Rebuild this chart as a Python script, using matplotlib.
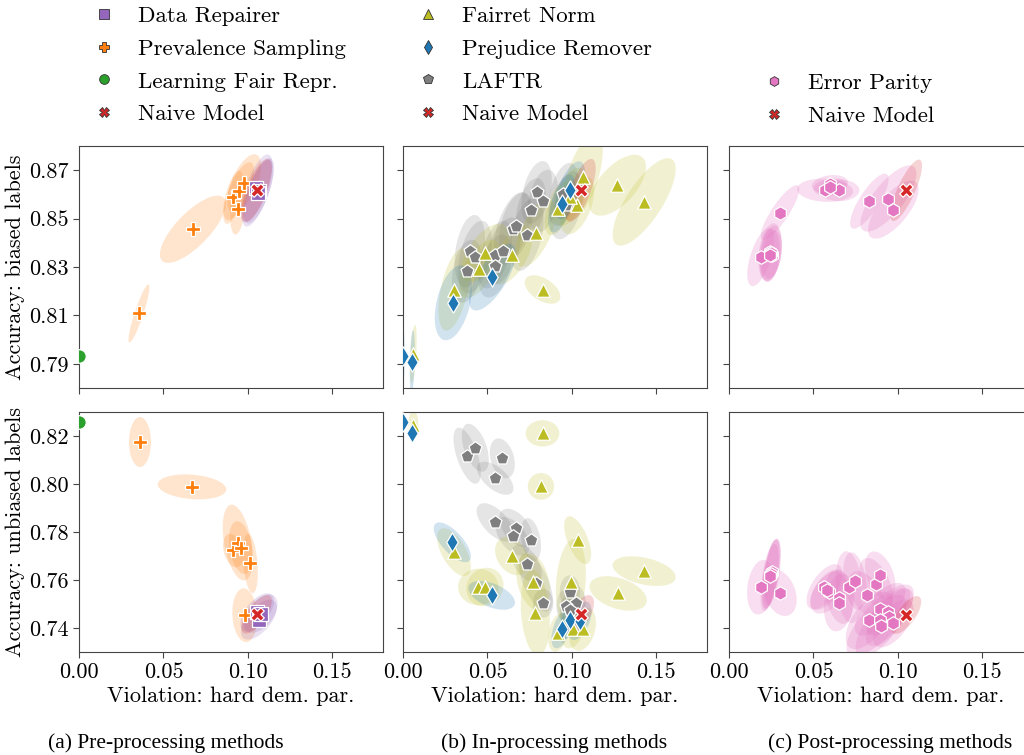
import numpy as np
import matplotlib.pyplot as plt
from matplotlib.patches import Ellipse
from matplotlib.lines import Line2D

plt.rcParams['font.family'] = 'cmr10'
plt.rcParams['axes.formatter.use_mathtext'] = True
plt.rcParams['font.size'] = 16

# every entry: violation, accuracy, sd violation, sd accuracy, correlation
# --- pre-processing, biased labels
dr_b = [(0.1050, 0.8625, 0.0095, 0.0140, 0.7), (0.1065, 0.8615, 0.0090, 0.0135, 0.7),
        (0.1058, 0.8605, 0.0092, 0.0138, 0.7)]
prev_b = [(0.0355, 0.8108, 0.0062, 0.0120, 0.9), (0.0674, 0.8456, 0.0195, 0.0139, 0.75),
          (0.0913, 0.8588, 0.0060, 0.0110, 0.6), (0.0947, 0.8613, 0.0090, 0.0120, 0.7),
          (0.0978, 0.8646, 0.0100, 0.0120, 0.6), (0.0940, 0.8539, 0.0045, 0.0105, 0.3)]
lfr_b = [(0.0, 0.7934, 0.0005, 0.0005, 0.0)]
naive_b = [(0.1052, 0.8617, 0.0090, 0.0130, 0.7)]
# --- pre-processing, unbiased labels
dr_u = [(0.1055, 0.7465, 0.0100, 0.0080, 0.6), (0.1065, 0.7435, 0.0107, 0.0083, 0.6),
        (0.1075, 0.7460, 0.0100, 0.0080, 0.5)]
prev_u = [(0.0361, 0.8175, 0.0065, 0.0104, 0.0), (0.0669, 0.7988, 0.0203, 0.0052, -0.2),
          (0.0913, 0.7723, 0.0060, 0.0070, -0.3), (0.0940, 0.7756, 0.0089, 0.0158, -0.4),
          (0.0958, 0.7735, 0.0070, 0.0110, -0.3), (0.1015, 0.7669, 0.0044, 0.0124, -0.3),
          (0.0982, 0.7453, 0.0074, 0.0112, -0.1)]
lfr_u = [(0.0, 0.8258, 0.0005, 0.0005, 0.0)]
naive_u = [(0.1052, 0.7457, 0.0090, 0.0080, 0.7)]

# --- in-processing, biased labels
fair_b = [(0.0304, 0.8207, 0.0094, 0.0170, 0.5), (0.0452, 0.8293, 0.0120, 0.0120, 0.6),
          (0.0485, 0.8359, 0.0140, 0.0120, 0.6), (0.0647, 0.8348, 0.0120, 0.0120, 0.6),
          (0.0785, 0.8441, 0.0120, 0.0140, 0.6), (0.0826, 0.8207, 0.0106, 0.0059, -0.5),
          (0.1270, 0.8638, 0.0169, 0.0126, 0.6), (0.1428, 0.8569, 0.0187, 0.0181, 0.75),
          (0.1063, 0.8672, 0.0120, 0.0180, 0.6), (0.1032, 0.8555, 0.0100, 0.0120, 0.5),
          (0.0988, 0.8590, 0.0100, 0.0120, 0.5), (0.0919, 0.8541, 0.0080, 0.0110, 0.5),
          (0.0061, 0.7941, 0.0020, 0.0120, 0.5)]
prej_b = [(0.0298, 0.8152, 0.0110, 0.0155, 0.4), (0.0529, 0.8258, 0.0138, 0.0138, 0.7),
          (0.0939, 0.8562, 0.0080, 0.0120, 0.6), (0.0988, 0.8617, 0.0090, 0.0120, 0.6),
          (0.0000, 0.7934, 0.0010, 0.0120, 0.0), (0.0055, 0.7909, 0.0015, 0.0130, 0.3)]
laftr_b = [(0.0396, 0.8365, 0.0090, 0.0150, 0.3), (0.0426, 0.8341, 0.0100, 0.0150, 0.4),
           (0.0380, 0.8283, 0.0090, 0.0130, 0.3), (0.0546, 0.8351, 0.0100, 0.0140, 0.5),
           (0.0590, 0.8365, 0.0110, 0.0140, 0.5), (0.0546, 0.8304, 0.0100, 0.0130, 0.4),
           (0.0649, 0.8459, 0.0110, 0.0150, 0.5), (0.0669, 0.8468, 0.0100, 0.0140, 0.4),
           (0.0732, 0.8434, 0.0100, 0.0150, 0.4), (0.0757, 0.8537, 0.0090, 0.0130, 0.4),
           (0.0791, 0.8608, 0.0090, 0.0130, 0.4), (0.0830, 0.8572, 0.0090, 0.0130, 0.3),
           (0.0968, 0.8555, 0.0100, 0.0140, 0.4), (0.0950, 0.8600, 0.0090, 0.0130, 0.4)]
naive2_b = [(0.1051, 0.8617, 0.0090, 0.0130, 0.7)]
# --- in-processing, unbiased labels
fair_u = [(0.0826, 0.8211, 0.0100, 0.0055, 0.0), (0.0817, 0.7990, 0.0078, 0.0056, 0.0),
          (0.0302, 0.7716, 0.0100, 0.0100, -0.6), (0.0446, 0.7571, 0.0120, 0.0076, 0.0),
          (0.0485, 0.7571, 0.0110, 0.0080, 0.1), (0.0645, 0.7700, 0.0100, 0.0080, -0.3),
          (0.0771, 0.7593, 0.0100, 0.0120, -0.3), (0.0783, 0.7464, 0.0086, 0.0179, -0.2),
          (0.1034, 0.7766, 0.0080, 0.0100, -0.6), (0.0994, 0.7591, 0.0089, 0.0180, 0.2),
          (0.1274, 0.7544, 0.0170, 0.0072, -0.4), (0.1428, 0.7637, 0.0187, 0.0062, -0.4),
          (0.0919, 0.7381, 0.0060, 0.0080, 0.3), (0.1004, 0.7395, 0.0070, 0.0080, 0.3),
          (0.1063, 0.7395, 0.0080, 0.0090, 0.3), (0.0061, 0.8246, 0.0030, 0.0060, 0.0)]
prej_u = [(0.0000, 0.8259, 0.0010, 0.0030, 0.0), (0.0055, 0.8211, 0.0015, 0.0040, 0.0),
          (0.0292, 0.7757, 0.0110, 0.0083, -0.7), (0.0525, 0.7536, 0.0138, 0.0060, -0.5),
          (0.0939, 0.7395, 0.0060, 0.0080, 0.5), (0.0988, 0.7434, 0.0060, 0.0080, 0.5),
          (0.1047, 0.7430, 0.0070, 0.0080, 0.5)]
laftr_u = [(0.0380, 0.8118, 0.0081, 0.0117, -0.6), (0.0428, 0.8151, 0.0080, 0.0100, -0.5),
           (0.0588, 0.8107, 0.0074, 0.0083, -0.3), (0.0546, 0.8024, 0.0108, 0.0069, -0.6),
           (0.0546, 0.7840, 0.0110, 0.0080, -0.6), (0.0669, 0.7817, 0.0100, 0.0080, -0.5),
           (0.0649, 0.7782, 0.0100, 0.0080, -0.5), (0.0757, 0.7768, 0.0060, 0.0090, -0.3),
           (0.0732, 0.7668, 0.0090, 0.0080, -0.5), (0.0787, 0.7589, 0.0100, 0.0120, -0.6),
           (0.0830, 0.7503, 0.0060, 0.0060, 0.0), (0.0988, 0.7550, 0.0060, 0.0070, 0.0),
           (0.1022, 0.7506, 0.0060, 0.0070, 0.0), (0.0968, 0.7492, 0.0060, 0.0070, 0.0),
           (0.0988, 0.7473, 0.0060, 0.0070, 0.0)]
naive2_u = [(0.1051, 0.7457, 0.0080, 0.0080, 0.6)]

# --- post-processing
ep_b = [(0.0302, 0.8525, 0.0114, 0.0113, 0.85), (0.0188, 0.8341, 0.0080, 0.0120, 0.6),
        (0.0243, 0.8362, 0.0069, 0.0119, 0.3), (0.0253, 0.8351, 0.0060, 0.0100, 0.3),
        (0.0248, 0.8356, 0.0065, 0.0115, 0.3), (0.0240, 0.8348, 0.0060, 0.0110, 0.2),
        (0.0569, 0.8617, 0.0166, 0.0048, -0.1), (0.0598, 0.8642, 0.0107, 0.0038, 0.2),
        (0.0652, 0.8617, 0.0120, 0.0045, 0.0), (0.0600, 0.8630, 0.0100, 0.0036, 0.2),
        (0.0831, 0.8572, 0.0114, 0.0114, 0.8),
        (0.0944, 0.8583, 0.0166, 0.0137, 0.75), (0.0973, 0.8537, 0.0150, 0.0120, 0.7)]
naive3_b = [(0.1049, 0.8617, 0.0094, 0.0127, 0.8)]
ep_u = [(0.0188, 0.7570, 0.0081, 0.0114, 0.2), (0.0243, 0.7619, 0.0057, 0.0149, 0.6),
        (0.0257, 0.7633, 0.0050, 0.0140, 0.5), (0.0250, 0.7625, 0.0055, 0.0145, 0.6),
        (0.0245, 0.7615, 0.0050, 0.0135, 0.5), (0.0302, 0.7547, 0.0099, 0.0097, -0.3),
        (0.0565, 0.7572, 0.0106, 0.0094, 0.6), (0.0592, 0.7550, 0.0110, 0.0090, 0.5),
        (0.0580, 0.7560, 0.0100, 0.0085, 0.6),
        (0.0652, 0.7527, 0.0080, 0.0110, -0.3), (0.0652, 0.7506, 0.0090, 0.0120, 0.2),
        (0.0711, 0.7570, 0.0080, 0.0150, -0.2), (0.0746, 0.7595, 0.0070, 0.0120, -0.3),
        (0.0816, 0.7537, 0.0110, 0.0100, -0.5), (0.0871, 0.7582, 0.0100, 0.0110, -0.5),
        (0.0895, 0.7619, 0.0090, 0.0100, -0.4), (0.0895, 0.7478, 0.0150, 0.0110, 0.7),
        (0.0944, 0.7468, 0.0130, 0.0100, 0.7), (0.0950, 0.7444, 0.0140, 0.0120, 0.7),
        (0.0831, 0.7432, 0.0140, 0.0120, 0.6), (0.0895, 0.7432, 0.0200, 0.0149, 0.75),
        (0.0899, 0.7409, 0.0150, 0.0130, 0.7), (0.0973, 0.7419, 0.0120, 0.0100, 0.6)]
naive3_u = [(0.1049, 0.7454, 0.0089, 0.0079, 0.7)]

styles = {
    'Data Repairer': ('s', '#9467bd'),
    'Prevalence Sampling': ('P', '#ff7f0e'),
    'Learning Fair Repr.': ('o', '#2ca02c'),
    'Naive Model': ('X', '#d62728'),
    'Fairret Norm': ('^', '#bcbd22'),
    'Prejudice Remover': ('d', '#1f77b4'),
    'LAFTR': ('p', '#7f7f7f'),
    'Error Parity': ('h', '#e377c2'),
}

columns = [
    [('Data Repairer', dr_b, dr_u), ('Prevalence Sampling', prev_b, prev_u),
     ('Learning Fair Repr.', lfr_b, lfr_u), ('Naive Model', naive_b, naive_u)],
    [('Fairret Norm', fair_b, fair_u), ('Prejudice Remover', prej_b, prej_u),
     ('LAFTR', laftr_b, laftr_u), ('Naive Model', naive2_b, naive2_u)],
    [('Error Parity', ep_b, ep_u), ('Naive Model', naive3_b, naive3_u)],
]
draw_order = [[1, 0, 2, 3], [2, 0, 1, 3], [0, 1]]
captions = ['(a) Pre-processing methods', '(b) In-processing methods',
            '(c) Post-processing methods']


def add_ellipse(ax, x, y, sx, sy, r, color, alpha):
    cov = np.array([[sx ** 2, r * sx * sy], [r * sx * sy, sy ** 2]])
    vals, vecs = np.linalg.eigh(cov)
    ang = np.degrees(np.arctan2(vecs[1, 1], vecs[0, 1]))
    e = Ellipse((x, y), 2 * np.sqrt(vals[1]), 2 * np.sqrt(max(vals[0], 0)), angle=ang,
                facecolor=color, edgecolor='none', alpha=alpha, zorder=1)
    ax.add_patch(e)


fig = plt.figure(figsize=(10.24, 7.55), dpi=100)
lefts = [79, 403, 729]
rows = [(146, 388), (412, 652)]
ylims = [(0.78, 0.88), (0.73, 0.83)]
yticks = [[0.79, 0.81, 0.83, 0.85, 0.87], [0.74, 0.76, 0.78, 0.80, 0.82]]
ylabels = ['Accuracy: biased labels', 'Accuracy: unbiased labels']
W, H = 1024, 755

for c, col in enumerate(columns):
    for r in range(2):
        top, bot = rows[r]
        ax = fig.add_axes([lefts[c] / W, 1 - bot / H, 304 / W, (bot - top) / H])
        for i in draw_order[c]:
            name = col[i][0]
            pts = col[i][1 + r]
            m, color = styles[name]
            a = 0.24 if name == 'Error Parity' else 0.2
            for (x, y, sx, sy, rr) in pts:
                add_ellipse(ax, x, y, sx, sy, rr, color, a)
        for i in draw_order[c]:
            name = col[i][0]
            pts = col[i][1 + r]
            m, color = styles[name]
            xs = [p[0] for p in pts]
            ys = [p[1] for p in pts]
            ax.scatter(xs, ys, marker=m, s=95, c=color, edgecolors='white',
                       linewidths=0.9, zorder=3 + (name == 'Naive Model'))
        ax.set_xlim(0, 0.18)
        ax.set_ylim(*ylims[r])
        ax.set_xticks([0.0, 0.05, 0.10, 0.15])
        ax.set_yticks(yticks[r])
        ax.tick_params(direction='out', length=4, color='#444444')
        for s in ax.spines.values():
            s.set_color('#444444')
        if r == 0:
            ax.set_xticklabels([])
        else:
            ax.set_xticklabels(['0.00', '0.05', '0.10', '0.15'])
            ax.set_xlabel('Violation: hard dem. par.', labelpad=3)
        if c == 0:
            ax.set_yticklabels(['%.2f' % v for v in yticks[r]])
            ax.set_ylabel(ylabels[r], labelpad=3)
        else:
            ax.set_yticklabels([])

    handles = []
    for name, _, _ in col:
        m, color = styles[name]
        handles.append(Line2D([], [], marker=m, color=color, linestyle='none', markersize=7,
                              markeredgecolor='#333333', markeredgewidth=0.6, label=name))
    legend_x = [83, 407, 753][c]
    legend_top = [-3, -3, 64][c]
    fig.legend(handles=handles, loc='upper left', frameon=False,
               bbox_to_anchor=(legend_x / W, 1 - legend_top / H), fontsize=16.5,
               labelspacing=0.55, handlelength=1.0, handletextpad=1.0, borderaxespad=0.0)

cap_x = [166, 554, 890]
for c in range(3):
    fig.text(cap_x[c] / W, 1 - 743 / H, captions[c], ha='center', va='center', fontsize=15.5,
             family='Liberation Serif')

fig.savefig('out.png', dpi=100)
